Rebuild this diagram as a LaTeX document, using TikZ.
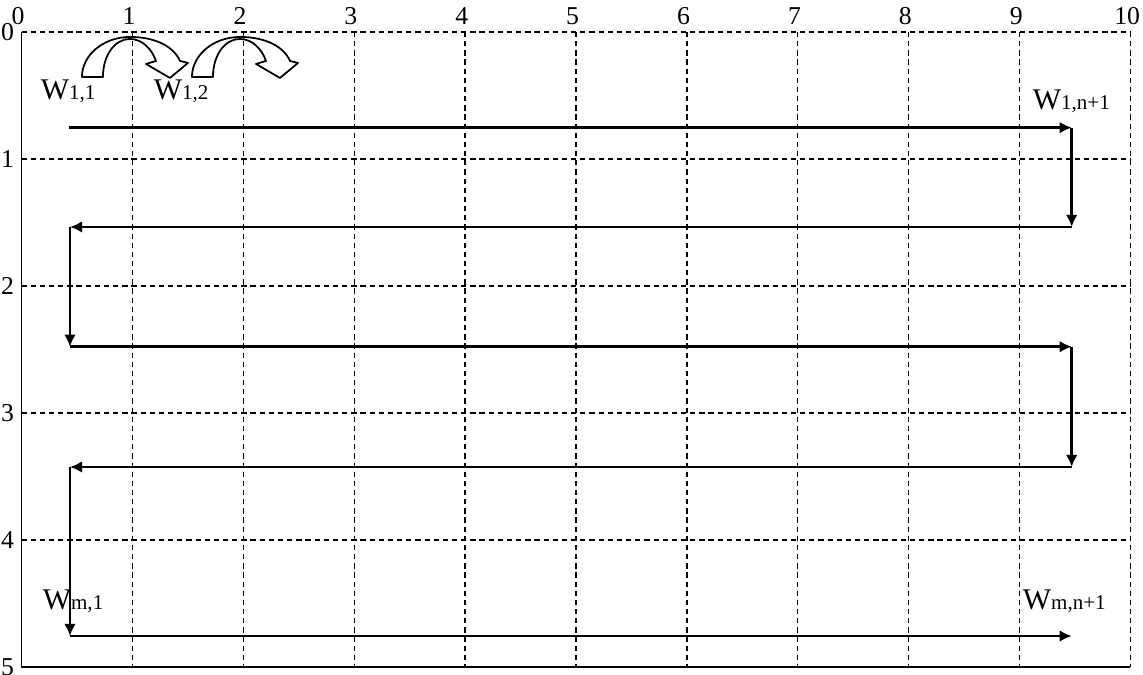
\documentclass[tikz,border=0pt]{standalone}
\usepackage{fontspec}
\setmainfont{Liberation Serif}
\usetikzlibrary{arrows.meta}
\newcommand\wsub[1]{{\fontsize{5.4}{6}\selectfont #1}}
\begin{document}
\begin{tikzpicture}[x=1cm,y=-1.1452cm,
  grid/.style={line width=0.35pt, dash pattern=on 1.35pt off 1pt},
  frame/.style={line width=0.5pt},
  flow/.style={line width=0.65pt, -{Latex[length=3.1pt,width=3pt]}},
  axlab/.style={inner sep=0pt, font=\fontsize{6.6}{7}\selectfont},
  wlab/.style={inner sep=0pt, anchor=base west, font=\fontsize{7.7}{9}\selectfont},
  hollow/.style={line width=0.45pt, fill=white, line join=round}]
\useasboundingbox (-0.1939cm,0.2886cm) rectangle (10.1129cm,-5.7979cm);
% grid
\foreach \i in {1,...,10} \draw[grid] (\i,0) -- (\i,5);
\foreach \j in {0,...,4} \draw[grid] (0,\j) -- (10,\j);
\draw[frame] (0,0) -- (0,5) -- (10,5);
% axis labels
\foreach \i in {0,...,10} \node[axlab, anchor=base] (tx\i) at (\i-0.03,-0.063) {\i};
\foreach \j in {0,...,5} \node[axlab, anchor=east] (ly\j) at (-0.06,\j) {\j};
% curved hollow arrows
\foreach \cx in {0.978,1.970}{
\begin{scope}[shift={(\cx,0.039)}, x=0.009017cm, y=-0.009017cm]
\draw[hollow] (-48,40) -- (-27,40) .. controls (-27,18) and (-15,2) .. (0,2)
  .. controls (12,2) and (22,12) .. (26,24) -- (16,27) -- (40,41) -- (58,26) -- (50,24)
  .. controls (44,10) and (26,0) .. (0,0)
  .. controls (-26.4,0) and (-48,18) .. (-48,40) -- cycle;
\end{scope}}
% snake path corners
\coordinate (p1) at (0.43,0.753);
\coordinate (p2) at (9.47,0.753);
\coordinate (p3) at (9.47,1.535);
\coordinate (p4) at (0.437,1.535);
\coordinate (p5) at (0.437,2.478);
\coordinate (p6) at (9.47,2.478);
\coordinate (p7) at (9.47,3.425);
\coordinate (p8) at (0.437,3.425);
\coordinate (p9) at (0.437,4.756);
\coordinate (p10) at (9.47,4.756);
\draw[flow] (p1) -- (p2);
\draw[flow] (p2) -- (p3);
\draw[flow] (p3) -- (p4);
\draw[flow] (p4) -- (p5);
\draw[flow] (p5) -- (p6);
\draw[flow] (p6) -- (p7);
\draw[flow] (p7) -- (p8);
\draw[flow] (p8) -- (p9);
\draw[flow] (p9) -- (p10);
% labels
\node[wlab] (w11) at (0.167,0.535) {W\wsub{1,1}};
\node[wlab] (w12) at (1.186,0.535) {W\wsub{1,2}};
\node[wlab] (w1n) at (9.112,0.614) {W\wsub{1,n+1}};
\node[wlab] (wm1) at (0.185,4.551) {W\wsub{m,1}};
\node[wlab] (wmn) at (9.022,4.551) {W\wsub{m,n+1}};
\end{tikzpicture}
\end{document}
